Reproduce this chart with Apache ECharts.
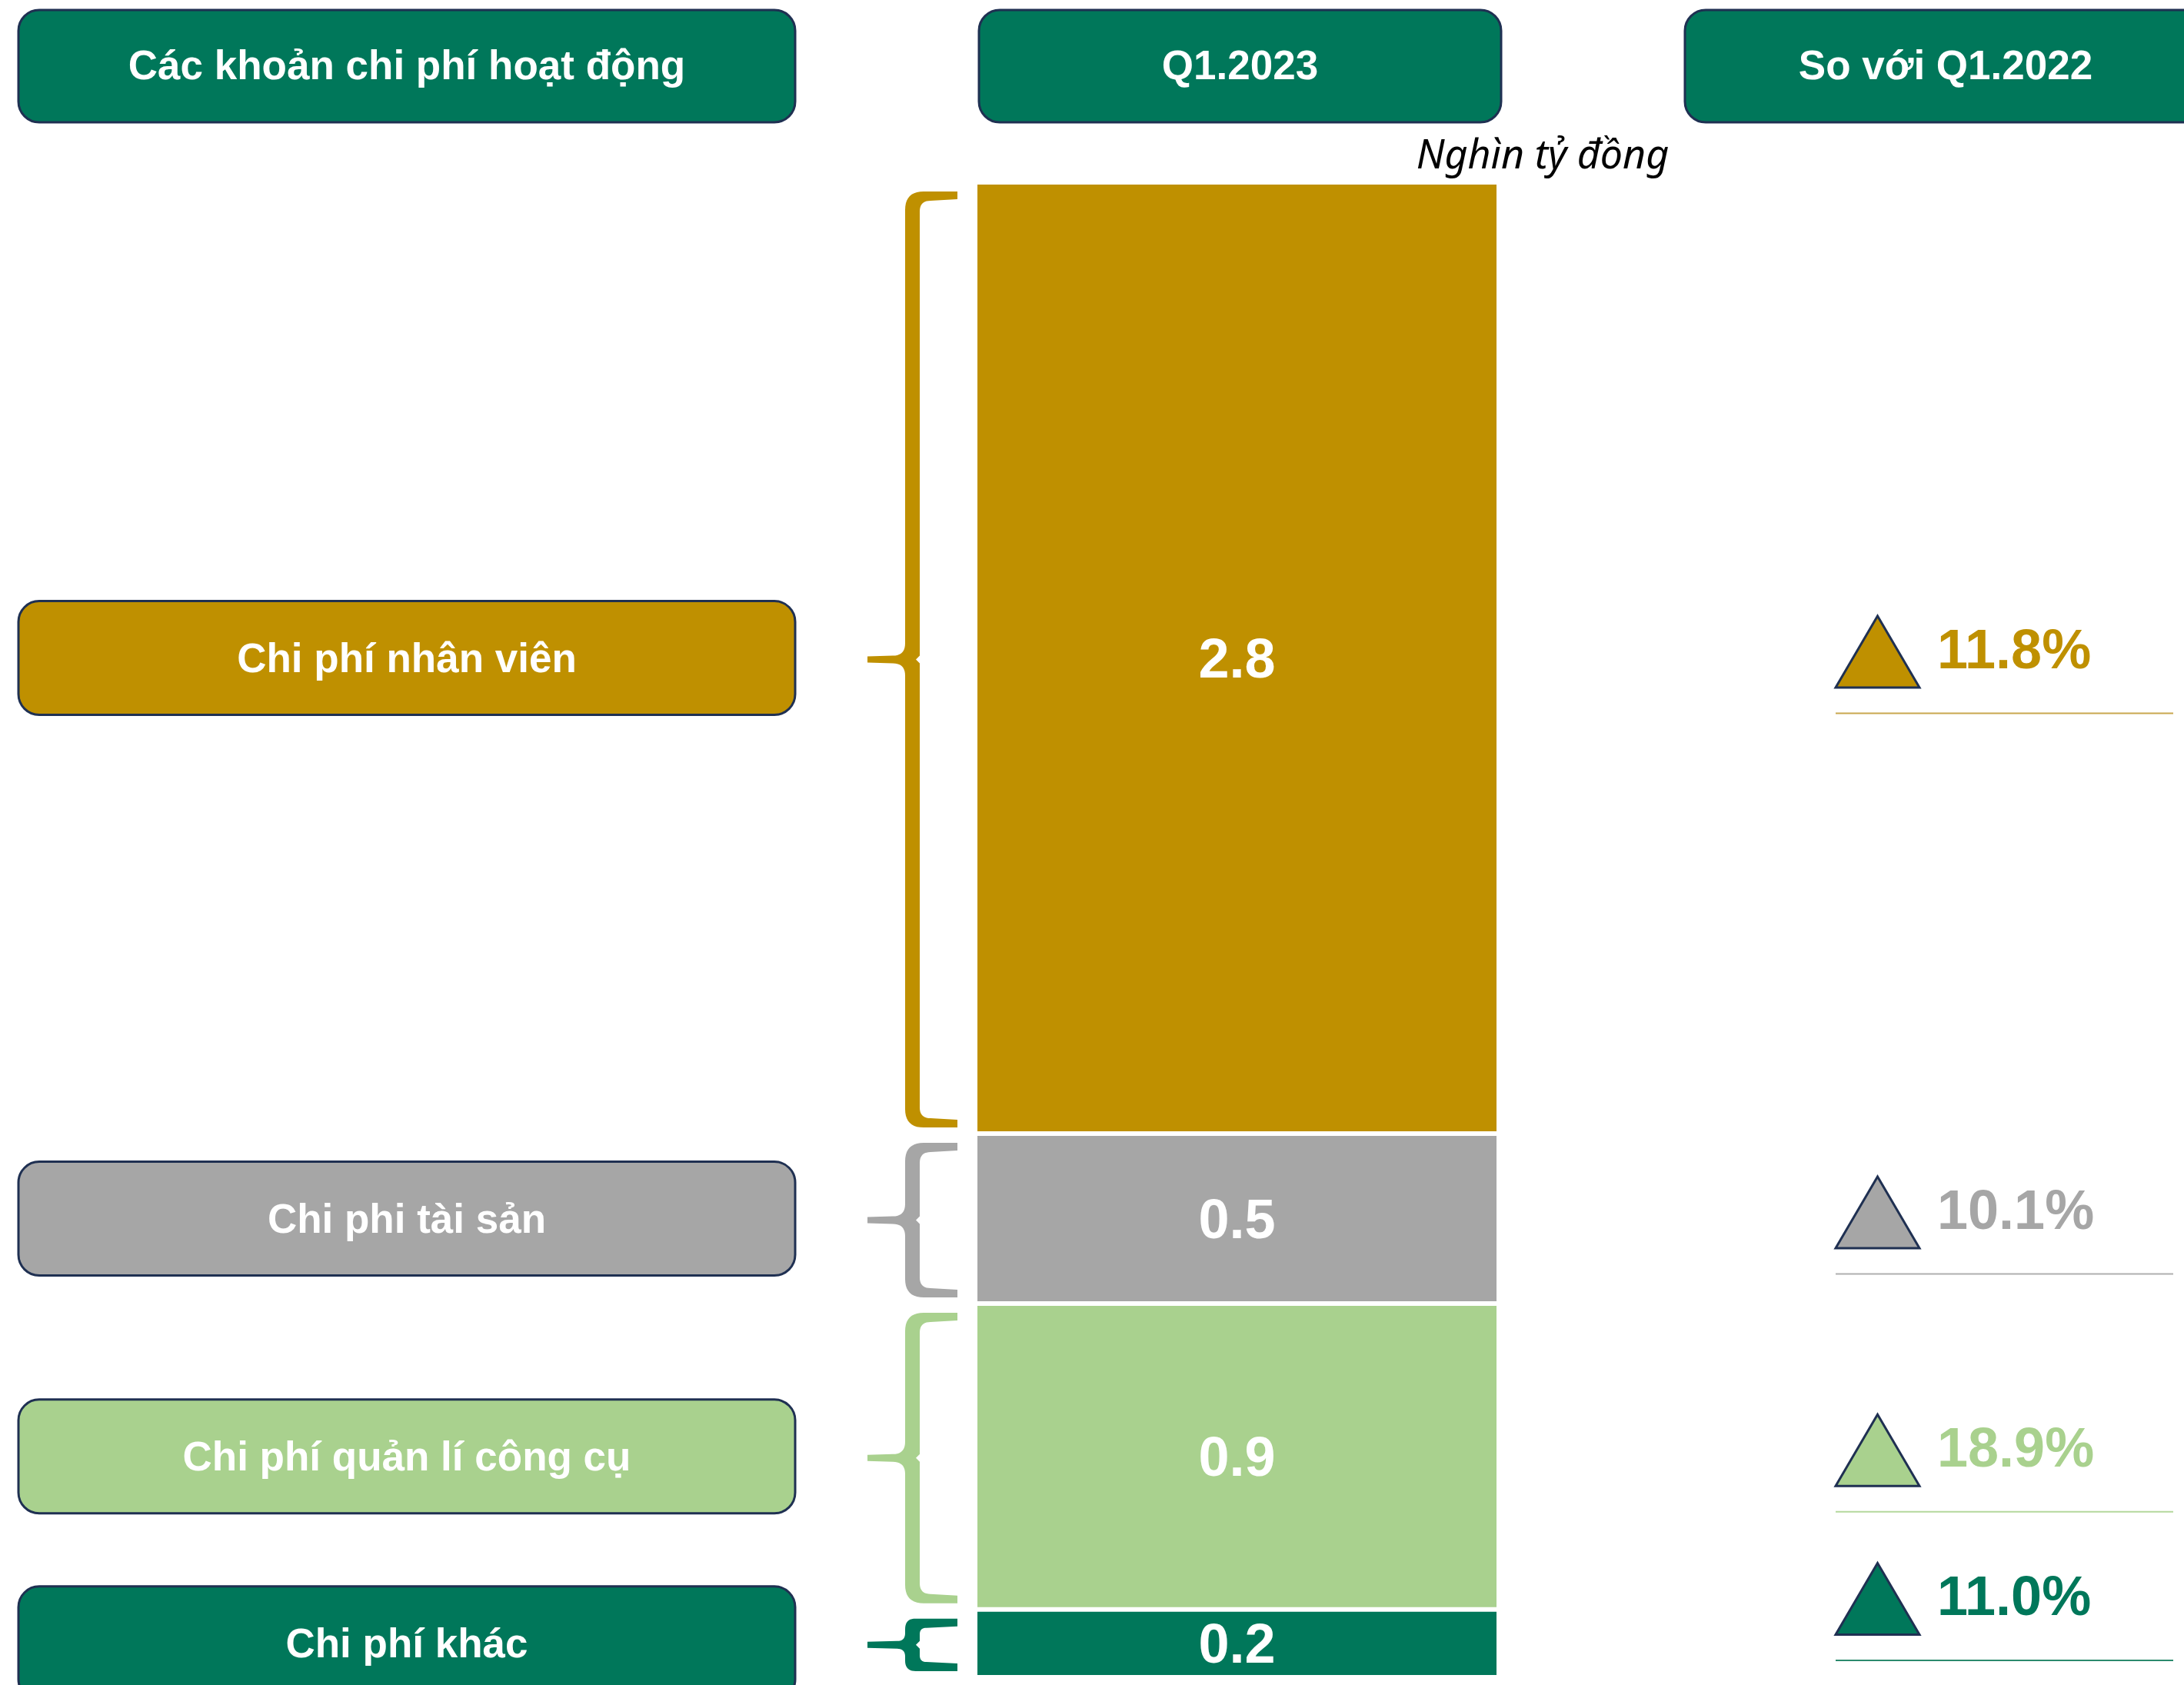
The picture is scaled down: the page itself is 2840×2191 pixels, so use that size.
<!DOCTYPE html>
<html>
<head>
<meta charset="utf-8">
<title>Các khoản chi phí hoạt động Q1.2023</title>
<script src="https://cdn.jsdelivr.net/npm/echarts@6/dist/echarts.min.js"></script>
<style>
  html, body { margin: 0; padding: 0; background: #ffffff; }
  #chart { width: 2840px; height: 2191px; }
</style>
</head>
<body>
<div id="chart"></div>
<script>
// Operating expenses in Q1.2023 (thousand billion VND) and change vs Q1.2022
const categories = ['Chi phí nhân viên', 'Chi phi tài sản', 'Chi phí quản lí công cụ', 'Chi phí khác'];
const values = [2.8, 0.5, 0.9, 0.2];
const changes = [11.8, 10.1, 18.9, 11.0];
const periods = ['Q1.2023'];
const headers = ['Các khoản chi phí hoạt động', 'Q1.2023', 'So với Q1.2022'];
const unitLabel = 'Nghìn tỷ đồng';
const colors = ['#BF9000', '#A6A6A6', '#A9D18E', '#00775A'];
const lineColors = ['#C9A74F', '#B0B0B0', '#B4D89C', '#2B8A6E'];

const NAVY = '#1F3052';
const HEADER_FILL = '#00775A';
const FONT = '"Liberation Sans", Arial, sans-serif';

// running offsets of each stacked segment (top to bottom)
const starts = [];
const ends = [];
let acc = 0;
values.forEach(v => { starts.push(acc); acc += v; ends.push(acc); });
const total = acc;

const chart = echarts.init(document.getElementById('chart'), null, { renderer: 'svg' });

function quad(pts, p0, c, p1, n) {
  n = n || 10;
  for (let k = 1; k <= n; k++) {
    const t = k / n, u = 1 - t;
    pts.push([u * u * p0[0] + 2 * u * t * c[0] + t * t * p1[0],
              u * u * p0[1] + 2 * u * t * c[1] + t * t * p1[1]]);
  }
}

// curly brace outline spanning one stacked segment, opening toward the bar
function bracePoints(top, bottom, barLeft) {
  const xa = barLeft - 23, xv = barLeft - 91, w = 19, x0 = barLeft - 140;
  const yt = top + 12, yb = bottom - 8;
  const ym = (yt + yb) / 2, half = (yb - yt) / 2;
  const r = Math.min(24, half * 0.4), r2 = Math.min(16, half * 0.3);
  const r3 = Math.min(14, half * 0.25), t = 10, h = 5, n = 5;
  const pts = [[xa, yt], [xv + r, yt]];
  quad(pts, [xv + r, yt], [xv, yt], [xv, yt + r]);
  pts.push([xv, ym - h - r2]);
  quad(pts, [xv, ym - h - r2], [xv, ym - h], [xv - r2, ym - h]);
  pts.push([x0, ym - h * 0.8], [x0, ym + h * 0.8], [xv - r2, ym + h]);
  quad(pts, [xv - r2, ym + h], [xv, ym + h], [xv, ym + h + r2]);
  pts.push([xv, yb - r]);
  quad(pts, [xv, yb - r], [xv, yb], [xv + r, yb]);
  pts.push([xa, yb], [xa, yb - t], [xv + w + r3, yb - t - 2]);
  quad(pts, [xv + w + r3, yb - t - 2], [xv + w, yb - t - 2], [xv + w, yb - t - 2 - r3]);
  pts.push([xv + w, ym + n], [xv + w - 5, ym], [xv + w, ym - n], [xv + w, yt + t + 2 + r3]);
  quad(pts, [xv + w, yt + t + 2 + r3], [xv + w, yt + t + 2], [xv + w + r3, yt + t + 2]);
  pts.push([xa, yt + t]);
  return pts;
}

// brace, category box and year-on-year marker for each segment
function renderAnnotations(params, api) {
  const i = api.value(3);
  const top = api.coord([0, api.value(1)])[1];
  const bottom = api.coord([0, api.value(2)])[1];
  const barLeft = params.coordSys.x;
  const yc = (top + bottom) / 2;
  const boxH = 148;
  // keep the marker and its rule line inside the canvas
  const ty = Math.min(yc - 8, api.getHeight() - 112);
  const triW = 109, triH = 93, triX = 2387;
  return {
    type: 'group',
    children: [
      { type: 'polygon', shape: { points: bracePoints(top, bottom, barLeft) },
        style: { fill: colors[i] } },
      { type: 'rect', shape: { x: 24, y: yc - boxH / 2, width: 1010, height: boxH, r: 27 },
        style: { fill: colors[i], stroke: NAVY, lineWidth: 3 } },
      { type: 'text', style: { text: categories[i], x: 529, y: yc, fill: '#ffffff',
        font: 'bold 53px ' + FONT, align: 'center', verticalAlign: 'middle' } },
      { type: 'polygon', shape: { points: [[triX, ty + triH / 2], [triX + triW / 2, ty - triH / 2], [triX + triW, ty + triH / 2]] },
        style: { fill: colors[i], stroke: NAVY, lineWidth: 3, lineJoin: 'miter' } },
      { type: 'text', style: { text: changes[i].toFixed(1) + '%', x: 2519, y: ty - 4, fill: colors[i],
        font: 'bold 72px ' + FONT, align: 'left', verticalAlign: 'middle' } },
      { type: 'line', shape: { x1: 2387, y1: ty + 80, x2: 2826, y2: ty + 80 },
        style: { stroke: lineColors[i], lineWidth: 2 } }
    ]
  };
}

function headerBox(x, w, label) {
  return {
    type: 'group',
    children: [
      { type: 'rect', shape: { x: x, y: 13, width: w, height: 146, r: 27 },
        style: { fill: HEADER_FILL, stroke: NAVY, lineWidth: 3 } },
      { type: 'text', style: { text: label, x: x + w / 2, y: 84, fill: '#ffffff',
        font: 'bold 53px ' + FONT, align: 'center', verticalAlign: 'middle' } }
    ]
  };
}

const barSeries = categories.map((name, i) => ({
  name: name,
  type: 'bar',
  stack: 'total',
  barWidth: '100%',
  data: [values[i]],
  itemStyle: { color: colors[i], borderColor: '#ffffff', borderWidth: 3 },
  label: {
    show: true,
    position: 'inside',
    color: '#ffffff',
    fontSize: 72,
    fontWeight: 'bold',
    fontFamily: FONT,
    formatter: p => p.value.toFixed(1)
  },
  silent: true
}));

chart.setOption({
  animation: false,
  backgroundColor: '#ffffff',
  grid: { left: 1268, width: 681, top: 237, bottom: 10, containLabel: false },
  xAxis: { type: 'category', data: periods, show: false },
  yAxis: { type: 'value', min: 0, max: total, inverse: true, show: false },
  graphic: [
    headerBox(24, 1010, headers[0]),
    headerBox(1273, 679, headers[1]),
    headerBox(2191, 678, headers[2]),
    { type: 'text', style: { text: unitLabel, x: 2006, y: 198, fill: '#000000',
      font: 'italic 52px "Noto Sans", sans-serif', align: 'center', verticalAlign: 'middle' } }
  ],
  series: barSeries.concat([{
    type: 'custom',
    clip: false,
    silent: true,
    renderItem: renderAnnotations,
    encode: { x: 0, y: [1, 2] },
    data: categories.map((c, i) => [0, starts[i], ends[i], i])
  }])
});
</script>
</body>
</html>
